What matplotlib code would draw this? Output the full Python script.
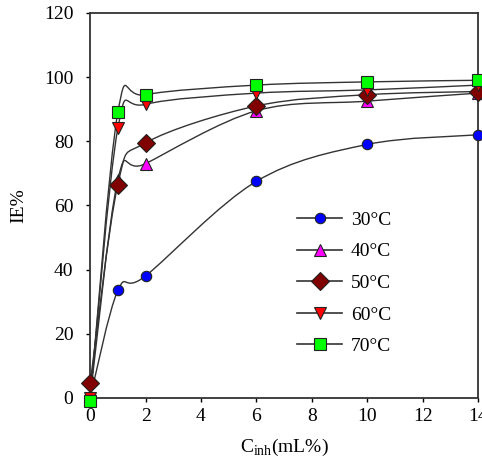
import numpy as np
import matplotlib.pyplot as plt
from matplotlib.path import Path
from matplotlib.patches import PathPatch
from matplotlib.lines import Line2D

# data
conc = [0, 1, 2, 6, 10, 14]
ie_30 = [0, 33.5, 38, 67.5, 79, 82]
ie_40 = [0, 68, 73, 89.5, 92.5, 95]
ie_50 = [4.5, 66.5, 79.5, 91, 94.5, 95.5]
ie_60 = [0, 84, 91.5, 95, 96, 97.5]
ie_70 = [-1, 89, 94.5, 97.5, 98.5, 99]

labels = ["30°C", "40°C", "50°C", "60°C", "70°C"]
series = [ie_30, ie_40, ie_50, ie_60, ie_70]
markers = ["o", "^", "D", "v", "s"]
colors = ["#0000ff", "#ff00ff", "#800000", "#ff0000", "#00ff00"]
sizes = [7.5, 8.5, 9, 8.5, 8]

LINE_COLOR = "#333333"
FS = 14

plt.rcParams["font.family"] = ["Liberation Serif", "DejaVu Serif"]


def smooth_path(x, y):
    # excel style smoothed line (bezier through the points)
    pts = np.column_stack([x, y]).astype(float)
    n = len(pts)
    verts = [pts[0]]
    codes = [Path.MOVETO]
    for i in range(n - 1):
        p0 = pts[i - 1] if i > 0 else pts[i]
        p1 = pts[i]
        p2 = pts[i + 1]
        p3 = pts[i + 2] if i + 2 < n else pts[i + 1]
        c1 = p1 + (p2 - p0) / 6
        c2 = p2 - (p3 - p1) / 6
        verts += [c1, c2, p2]
        codes += [Path.CURVE4] * 3
    return Path(verts, codes)


fig = plt.figure(figsize=(4.82, 4.62), dpi=100)
ax = fig.add_axes([0.187, 0.139, 0.805, 0.833])

handles = []
for y, lab, m, c, s in zip(series, labels, markers, colors, sizes):
    patch = PathPatch(smooth_path(conc, y), facecolor="none",
                      edgecolor=LINE_COLOR, lw=1.0, zorder=2)
    ax.add_patch(patch)
    ax.plot(conc, y, linestyle="none", marker=m, markersize=s,
            markerfacecolor=c, markeredgecolor="#222222", markeredgewidth=0.8,
            clip_on=False, zorder=3)
    handles.append(Line2D([], [], color=LINE_COLOR, lw=1.2, marker=m,
                          markersize=s, markerfacecolor=c,
                          markeredgecolor="#222222", markeredgewidth=0.8))

ax.set_xlim(0, 14)
ax.set_ylim(0, 120)
ax.set_xticks(range(0, 15, 2))
ax.set_yticks(range(0, 121, 20))
ax.tick_params(direction="out", length=3, width=1, labelsize=FS)
ax.tick_params(axis="x", pad=4)
ax.tick_params(axis="y", pad=9)
for sp in ax.spines.values():
    sp.set_linewidth(1.3)
    sp.set_color("#333333")

ax.set_xlabel("C$_{\\mathregular{inh}}$(mL%)", fontsize=FS, labelpad=9)
ax.set_ylabel("IE%", fontsize=FS, labelpad=12)

ax.legend(handles, labels, loc="upper left", bbox_to_anchor=(0.534, 0.485),
          frameon=False, fontsize=FS, handlelength=2.3, handletextpad=0.45,
          labelspacing=0.72, borderpad=0, borderaxespad=0)

fig.savefig("out.png", dpi=100)
